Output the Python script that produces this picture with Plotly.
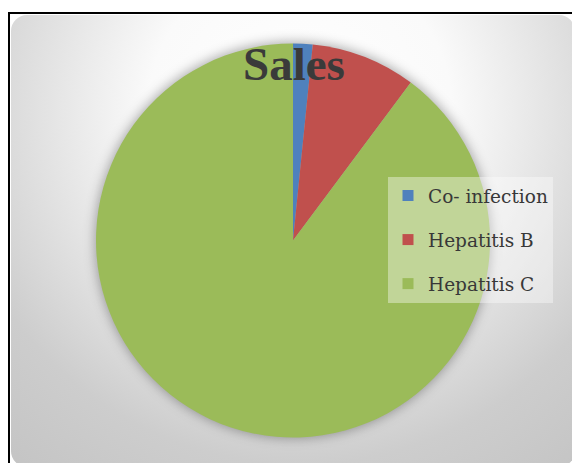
import base64
import plotly.graph_objects as go

# ---- data ----
categories = ["Co- infection", "Hepatitis B", "Hepatitis C"]
sales = [1.6, 8.6, 89.8]
slice_colors = ["#4F81BD", "#C0504D", "#9BBB59"]
chart_title = "Sales"

W, H = 572, 463

# background decoration (radial gradient panel, frame, soft pie shadow)
svg = f'''<svg xmlns="http://www.w3.org/2000/svg" width="{W}" height="{H}" viewBox="0 0 {W} {H}" preserveAspectRatio="none">
<defs>
<radialGradient id="g" gradientUnits="userSpaceOnUse" cx="300" cy="110" r="460">
<stop offset="0" stop-color="#ffffff"/>
<stop offset="0.33" stop-color="#fafafa"/>
<stop offset="0.77" stop-color="#cdcdcd"/>
<stop offset="1" stop-color="#c4c4c4"/>
</radialGradient>
<filter id="b" x="-20%" y="-20%" width="140%" height="140%"><feGaussianBlur stdDeviation="6"/></filter>
</defs>
<rect x="0" y="0" width="{W}" height="{H}" fill="#ffffff"/>
<rect x="11" y="15" width="564" height="452" rx="16" ry="16" fill="url(#g)"/>
<circle cx="293" cy="240" r="198" fill="#000000" fill-opacity="0.33" filter="url(#b)"/>
<path d="M8,13 H572 M9,12 V463" stroke="#000000" stroke-width="2" fill="none"/>
</svg>'''
bg_src = "data:image/svg+xml;base64," + base64.b64encode(svg.encode("utf-8")).decode("ascii")

fig = go.Figure()

fig.add_trace(go.Pie(
    labels=categories,
    values=sales,
    marker=dict(colors=slice_colors, line=dict(width=0)),
    sort=False,
    direction="clockwise",
    rotation=0,
    textinfo="none",
    hoverinfo="label+value+percent",
    showlegend=False,
    domain=dict(x=[96 / W, 490 / W], y=[1 - 438 / H, 1 - 43 / H]),
))

# legend entries (one per category, same colours as the slices)
for cat, col in zip(categories, slice_colors):
    fig.add_trace(go.Scatter(
        x=[None], y=[None], mode="markers", name=cat, legendgroup=cat,
        marker=dict(symbol="square", size=11, color=col),
        hoverinfo="skip",
    ))

fig.add_layout_image(
    source=bg_src, xref="paper", yref="paper", x=0, y=1,
    sizex=1, sizey=1, xanchor="left", yanchor="top",
    sizing="stretch", layer="below",
)

fig.update_layout(
    width=W, height=H, autosize=False,
    margin=dict(l=0, r=0, t=0, b=0, pad=0),
    paper_bgcolor="#ffffff",
    plot_bgcolor="rgba(0,0,0,0)",
    xaxis=dict(visible=False),
    yaxis=dict(visible=False),
    title=dict(
        text=chart_title,
        x=294 / W, xref="paper", xanchor="center",
        y=1 - 64 / H, yref="paper", yanchor="middle",
        font=dict(family="Liberation Serif", size=47, color="#3a3a3a", weight="bold"),
    ),
    showlegend=True,
    legend=dict(
        x=388 / W, y=1 - 177 / H, xanchor="left", yanchor="top",
        xref="paper", yref="paper",
        bgcolor="rgba(255,255,255,0.38)", borderwidth=0,
        font=dict(family="DejaVu Serif", size=18.5, color="#383838"),
        tracegroupgap=17,
        traceorder="grouped",
    ),
)

fig.write_html("out.html")
